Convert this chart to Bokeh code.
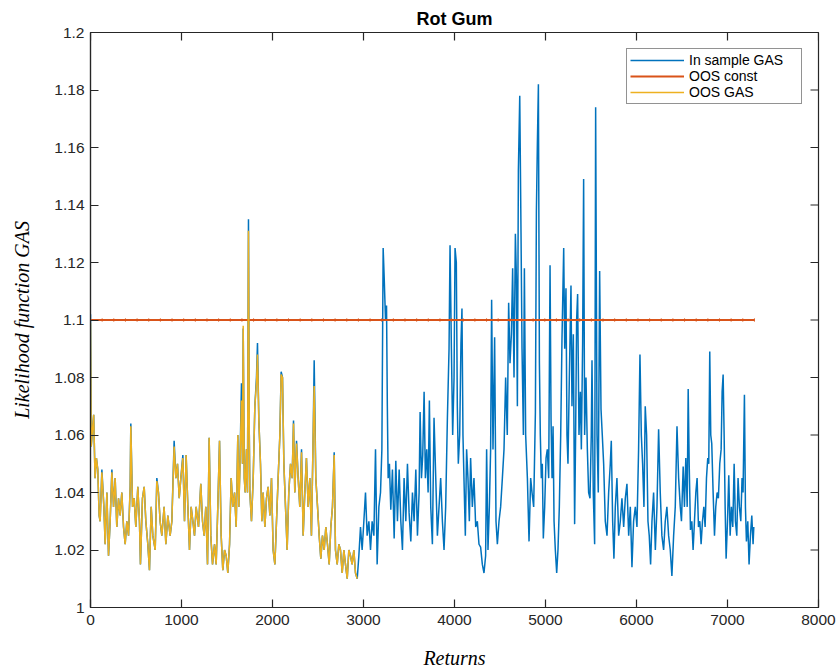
from bokeh.plotting import figure
from bokeh.models import (Range1d, FixedTicker, CustomJSTickFormatter,
                          Legend, LegendItem, ColumnDataSource)
from bokeh.embed import file_html
from bokeh.resources import INLINE

title_text = "Rot Gum"
x_label = "Returns"
y_label = "Likelihood function GAS"
series_names = ["In sample GAS", "OOS const", "OOS GAS"]
series_colors = ["#0072BD", "#D95319", "#EDB120"]

x_ticks = [0, 1000, 2000, 3000, 4000, 5000, 6000, 7000, 8000]
x_tick_labels = ["0", "1000", "2000", "3000", "4000", "5000", "6000", "7000", "8000"]
y_ticks = [1.0, 1.02, 1.04, 1.06, 1.08, 1.1, 1.12, 1.14, 1.16, 1.18, 1.2]
y_tick_labels = ["1", "1.02", "1.04", "1.06", "1.08", "1.1", "1.12", "1.14", "1.16", "1.18", "1.2"]

in_sample_x = [
    0, 8, 22, 35, 50, 65, 80, 95, 106, 125, 147, 161, 180, 198, 216, 235, 253, 271, 289, 308,
    326, 344, 363, 381, 399, 418, 436, 443, 462, 480, 498, 520, 538, 549, 571, 590, 608, 630, 648, 667,
    685, 711, 729, 747, 765, 784, 809, 828, 850, 875, 894, 919, 938, 956, 975, 993, 1015, 1033, 1051, 1070,
    1088, 1106, 1125, 1143, 1161, 1187, 1212, 1231, 1249, 1267, 1286, 1304, 1322, 1341, 1363, 1381, 1399, 1418, 1436, 1454,
    1473, 1491, 1509, 1528, 1546, 1564, 1583, 1601, 1619, 1630, 1641, 1659, 1670, 1678, 1690, 1700, 1714, 1725, 1736, 1745,
    1751, 1769, 1788, 1806, 1824, 1835, 1850, 1868, 1883, 1897, 1916, 1934, 1952, 1971, 1989, 2007, 2026, 2044, 2062, 2081,
    2095, 2110, 2125, 2143, 2161, 2179, 2198, 2216, 2231, 2245, 2264, 2282, 2300, 2319, 2337, 2355, 2373, 2392, 2410, 2428,
    2447, 2458, 2476, 2495, 2513, 2531, 2549, 2568, 2586, 2604, 2623, 2641, 2659, 2678, 2692, 2711, 2729, 2747, 2766, 2784,
    2802, 2821, 2839, 2857, 2875, 2894, 2912, 2931,
    2949, 2967, 2985, 3004, 3022, 3040, 3059, 3077, 3095, 3114, 3132, 3150, 3169, 3187, 3202, 3216, 3227, 3242, 3253, 3262,
    3271, 3285, 3300, 3318, 3337, 3355, 3373, 3392, 3410, 3428, 3446, 3465, 3483, 3501, 3520, 3538, 3556, 3575, 3593, 3611,
    3622, 3637, 3651, 3666, 3680, 3695, 3710, 3724, 3739, 3757, 3775, 3794, 3812, 3830, 3848, 3867, 3885, 3903, 3922, 3940,
    3951, 3966, 3980, 3995, 4006, 4020, 4031, 4042, 4057, 4071, 4082, 4093, 4104, 4119, 4133, 4148, 4163, 4177, 4196, 4214,
    4233, 4251, 4269, 4287, 4306, 4324, 4342, 4353, 4368, 4383, 4397, 4408, 4423, 4441, 4456, 4471, 4489, 4507, 4526, 4544,
    4562, 4580, 4595, 4610, 4625, 4639, 4654, 4669, 4680, 4691, 4702, 4717, 4731, 4742, 4757, 4768, 4782, 4801, 4819, 4837,
    4852, 4870, 4889, 4900, 4911, 4922, 4933, 4943, 4954, 4965, 4976, 4991, 5006, 5020, 5035, 5050, 5061, 5072, 5083, 5094,
    5108, 5123, 5137, 5152, 5167, 5181, 5200, 5211, 5225, 5236, 5247, 5262, 5280, 5291, 5306, 5320, 5331, 5342, 5353, 5368,
    5383, 5394, 5408, 5419, 5430, 5445, 5460, 5474, 5489, 5503, 5511, 5525, 5540, 5551, 5566, 5580, 5595, 5610, 5624, 5639,
    5657, 5676, 5694, 5712, 5723, 5738, 5752, 5767, 5785, 5804, 5822, 5840, 5859, 5877, 5895, 5914, 5932, 5950, 5968, 5987,
    6005, 6023, 6038, 6053, 6067, 6082, 6096, 6111, 6126, 6140, 6155, 6170, 6188, 6207, 6225, 6243, 6261, 6279, 6298, 6316,
    6334, 6353, 6371, 6389, 6408, 6426, 6445, 6463, 6481, 6494, 6513, 6527, 6542, 6557, 6568, 6579, 6593, 6608, 6622, 6637,
    6652, 6666, 6681, 6696, 6710, 6725, 6740, 6754, 6769, 6783, 6794, 6805, 6816, 6827, 6842, 6857, 6871, 6886, 6900, 6915,
    6930, 6941, 6952, 6963, 6974, 6985, 7000, 7014, 7029, 7043, 7058, 7073, 7087, 7102, 7116, 7131, 7146, 7160, 7171, 7186,
    7197, 7208, 7223, 7237, 7252, 7267, 7281, 7289,
]

in_sample_y = [
    1.102, 1.056, 1.062, 1.067, 1.045, 1.052, 1.048, 1.032, 1.030, 1.048, 1.035, 1.022, 1.040, 1.018, 1.030, 1.048, 1.035, 1.045, 1.028, 1.038,
    1.032, 1.040, 1.028, 1.022, 1.030, 1.025, 1.042, 1.064, 1.035, 1.038, 1.028, 1.042, 1.030, 1.015, 1.038, 1.042, 1.030, 1.022, 1.013, 1.035,
    1.025, 1.020, 1.045, 1.040, 1.030, 1.025, 1.035, 1.022, 1.032, 1.025, 1.030, 1.058, 1.045, 1.050, 1.038, 1.045, 1.053, 1.030, 1.053, 1.035,
    1.020, 1.035, 1.030, 1.025, 1.035, 1.028, 1.043, 1.030, 1.025, 1.035, 1.015, 1.059, 1.025, 1.015, 1.022, 1.015, 1.035, 1.058, 1.025, 1.013,
    1.020, 1.018, 1.012, 1.022, 1.045, 1.035, 1.040, 1.028, 1.060, 1.035, 1.048, 1.078, 1.050, 1.097, 1.045, 1.040, 1.055, 1.040, 1.135, 1.060,
    1.040, 1.030, 1.045, 1.070, 1.080, 1.092, 1.065, 1.050, 1.030, 1.040, 1.028, 1.038, 1.042, 1.032, 1.045, 1.020, 1.015, 1.030, 1.045, 1.060,
    1.082, 1.080, 1.050, 1.035, 1.020, 1.040, 1.050, 1.045, 1.065, 1.040, 1.058, 1.045, 1.035, 1.055, 1.025, 1.040, 1.052, 1.035, 1.045, 1.025,
    1.060, 1.086, 1.045, 1.035, 1.025, 1.017, 1.025, 1.020, 1.028, 1.022, 1.015, 1.028, 1.035, 1.054, 1.020, 1.015, 1.022, 1.020, 1.012, 1.020,
    1.015, 1.010, 1.020, 1.018, 1.015, 1.020, 1.012, 1.010,
    1.018, 1.028, 1.020, 1.030, 1.040, 1.025, 1.030, 1.020, 1.030, 1.025, 1.055, 1.015, 1.035, 1.040, 1.055, 1.125, 1.115, 1.100, 1.105, 1.070,
    1.045, 1.050, 1.034, 1.048, 1.024, 1.051, 1.030, 1.048, 1.030, 1.020, 1.045, 1.030, 1.050, 1.033, 1.023, 1.040, 1.030, 1.048, 1.025, 1.040,
    1.068, 1.045, 1.053, 1.075, 1.045, 1.055, 1.040, 1.072, 1.035, 1.022, 1.066, 1.045, 1.025, 1.035, 1.045, 1.030, 1.020, 1.035, 1.066, 1.090,
    1.126, 1.090, 1.060, 1.080, 1.125, 1.120, 1.070, 1.050, 1.060, 1.092, 1.104, 1.060, 1.045, 1.025, 1.055, 1.045, 1.030, 1.052, 1.035, 1.045,
    1.028, 1.030, 1.022, 1.021, 1.015, 1.012, 1.018, 1.055, 1.020, 1.035, 1.055, 1.107, 1.055, 1.094, 1.030, 1.022, 1.030, 1.035, 1.045, 1.055,
    1.080, 1.060, 1.106, 1.085, 1.095, 1.118, 1.080, 1.130, 1.115, 1.070, 1.152, 1.178, 1.130, 1.090, 1.060, 1.118, 1.060, 1.045, 1.023, 1.045,
    1.040, 1.035, 1.068, 1.138, 1.162, 1.182, 1.085, 1.060, 1.045, 1.050, 1.024, 1.035, 1.052, 1.055, 1.045, 1.119, 1.065, 1.045, 1.063, 1.030,
    1.020, 1.012, 1.020, 1.035, 1.060, 1.093, 1.125, 1.090, 1.111, 1.060, 1.050, 1.080, 1.112, 1.070, 1.095, 1.029, 1.060, 1.100, 1.109, 1.060,
    1.075, 1.055, 1.092, 1.149, 1.060, 1.080, 1.055, 1.040, 1.038, 1.060, 1.086, 1.040, 1.022, 1.174, 1.060, 1.040, 1.117, 1.069, 1.060, 1.050,
    1.030, 1.025, 1.040, 1.050, 1.058, 1.030, 1.017, 1.035, 1.045, 1.025, 1.030, 1.038, 1.028, 1.038, 1.043, 1.025, 1.035, 1.014, 1.030, 1.035,
    1.028, 1.055, 1.088, 1.060, 1.050, 1.035, 1.070, 1.060, 1.030, 1.025, 1.015, 1.030, 1.040, 1.020, 1.035, 1.062, 1.040, 1.025, 1.020, 1.030,
    1.035, 1.025, 1.020, 1.011, 1.025, 1.035, 1.063, 1.045, 1.035, 1.030, 1.049, 1.035, 1.052, 1.035, 1.076, 1.050, 1.027, 1.030, 1.020, 1.030,
    1.040, 1.045, 1.028, 1.030, 1.022, 1.030, 1.035, 1.028, 1.045, 1.052, 1.050, 1.089, 1.060, 1.057, 1.040, 1.025, 1.035, 1.040, 1.038, 1.050,
    1.055, 1.075, 1.081, 1.060, 1.035, 1.017, 1.030, 1.046, 1.025, 1.035, 1.028, 1.050, 1.030, 1.025, 1.045, 1.035, 1.030, 1.045, 1.040, 1.074,
    1.035, 1.023, 1.030, 1.015, 1.025, 1.032, 1.022, 1.028,
]

oos_gas_y = [
    1.099, 1.056, 1.062, 1.067, 1.045, 1.052, 1.048, 1.032, 1.030, 1.047, 1.035, 1.022, 1.040, 1.018, 1.030, 1.047, 1.035, 1.045, 1.028, 1.038,
    1.032, 1.040, 1.028, 1.022, 1.030, 1.025, 1.042, 1.063, 1.035, 1.038, 1.028, 1.042, 1.030, 1.015, 1.038, 1.042, 1.030, 1.022, 1.013, 1.035,
    1.025, 1.020, 1.044, 1.040, 1.030, 1.025, 1.035, 1.022, 1.032, 1.025, 1.030, 1.056, 1.045, 1.050, 1.038, 1.045, 1.052, 1.030, 1.053, 1.035,
    1.020, 1.035, 1.030, 1.025, 1.035, 1.028, 1.043, 1.030, 1.025, 1.035, 1.015, 1.059, 1.025, 1.015, 1.022, 1.015, 1.035, 1.058, 1.025, 1.013,
    1.020, 1.018, 1.012, 1.022, 1.045, 1.035, 1.040, 1.028, 1.060, 1.035, 1.047, 1.072, 1.050, 1.098, 1.045, 1.040, 1.055, 1.040, 1.131, 1.060,
    1.040, 1.030, 1.045, 1.070, 1.078, 1.088, 1.065, 1.050, 1.030, 1.040, 1.028, 1.038, 1.042, 1.032, 1.045, 1.020, 1.015, 1.030, 1.045, 1.060,
    1.081, 1.080, 1.050, 1.035, 1.020, 1.040, 1.050, 1.045, 1.064, 1.040, 1.057, 1.045, 1.035, 1.054, 1.025, 1.040, 1.052, 1.035, 1.045, 1.025,
    1.060, 1.077, 1.045, 1.035, 1.025, 1.017, 1.025, 1.020, 1.028, 1.022, 1.015, 1.028, 1.035, 1.053, 1.020, 1.015, 1.022, 1.020, 1.012, 1.020,
    1.015, 1.010, 1.020, 1.018, 1.015, 1.020, 1.012, 1.010,
]

oos_const_value = 1.1
oos_const_x = [0, 7300]
const_marker_step = 128

x_range_lim = (0, 8000)
y_range_lim = (1.0, 1.2)

AX = "#262626"
TICK_LEN = 8
W, H = 839, 671
BL, BR, BT, BB = 90, 21, 32, 64

p = figure(width=W, height=H, output_backend="svg", toolbar_location=None,
           x_range=Range1d(*x_range_lim), y_range=Range1d(*y_range_lim),
           min_border_left=BL, min_border_right=BR, min_border_top=BT, min_border_bottom=BB,
           background_fill_color="white", border_fill_color="white")
p.outline_line_color = AX
p.outline_line_width = 1.2
p.xgrid.visible = False
p.ygrid.visible = False

fmt_code = """
let best = 0; let bd = Infinity;
for (let i = 0; i < tvals.length; i++) {
  const d = Math.abs(tvals[i] - tick);
  if (d < bd) { bd = d; best = i; }
}
return tlabels[best];
"""
xax = p.below[0]
yax = p.left[0]
xax.ticker = FixedTicker(ticks=x_ticks)
xax.formatter = CustomJSTickFormatter(args=dict(tvals=x_ticks, tlabels=x_tick_labels), code=fmt_code)
yax.ticker = FixedTicker(ticks=y_ticks)
yax.formatter = CustomJSTickFormatter(args=dict(tvals=y_ticks, tlabels=y_tick_labels), code=fmt_code)

for ax in [xax, yax]:
    ax.major_tick_in = TICK_LEN
    ax.major_tick_out = 0
    ax.minor_tick_in = 0
    ax.minor_tick_out = 0
    ax.axis_line_color = AX
    ax.axis_line_width = 1.2
    ax.major_tick_line_color = AX
    ax.major_tick_line_width = 1.2
    ax.major_label_text_font = "Liberation Sans"
    ax.major_label_text_color = AX
    ax.major_label_text_font_size = "15.5px"
    ax.axis_label_text_font = "Liberation Serif"
    ax.axis_label_text_font_style = "italic"
    ax.axis_label_text_font_size = "20px"
    ax.axis_label_text_color = "#000000"

xax.axis_label = x_label
xax.major_label_standoff = 7
xax.axis_label_standoff = 19
yax.axis_label = y_label
yax.major_label_standoff = 6
yax.axis_label_standoff = 18

# inward ticks on the top and right edges of the box (tick length converted from px to data units)
frame_w = W - BL - BR
frame_h = H - BT - BB
dy = TICK_LEN * (y_range_lim[1] - y_range_lim[0]) / frame_h
dx = TICK_LEN * (x_range_lim[1] - x_range_lim[0]) / frame_w
p.segment(x0=x_ticks, y0=[y_range_lim[1]] * len(x_ticks),
          x1=x_ticks, y1=[y_range_lim[1] - dy] * len(x_ticks),
          line_color=AX, line_width=1.2)
p.segment(x0=[x_range_lim[1]] * len(y_ticks), y0=y_ticks,
          x1=[x_range_lim[1] - dx] * len(y_ticks), y1=y_ticks,
          line_color=AX, line_width=1.2)

p.title.text = title_text
p.title.align = "center"
p.title.text_font = "Liberation Sans"
p.title.text_font_style = "bold"
p.title.text_font_size = "18px"
p.title.text_color = "#000000"
p.title.standoff = 7

src_in = ColumnDataSource(dict(x=in_sample_x, y=in_sample_y))
src_oos = ColumnDataSource(dict(x=in_sample_x[:len(oos_gas_y)], y=oos_gas_y))
src_const = ColumnDataSource(dict(x=oos_const_x, y=[oos_const_value] * len(oos_const_x)))
mk_x = list(range(oos_const_x[0], oos_const_x[-1], const_marker_step))
src_mk = ColumnDataSource(dict(x=mk_x, y=[oos_const_value] * len(mk_x)))

r_in = p.line("x", "y", source=src_in, line_color=series_colors[0], line_width=1.5)
r_const = p.line("x", "y", source=src_const, line_color=series_colors[1], line_width=1.8)
p.scatter("x", "y", source=src_mk, marker="dash", angle=1.5708, size=4,
          line_color=series_colors[1], line_width=1, line_alpha=0.6)
r_oos = p.line("x", "y", source=src_oos, line_color=series_colors[2], line_width=1.5)

legend = Legend(items=[LegendItem(label=series_names[0], renderers=[r_in]),
                       LegendItem(label=series_names[1], renderers=[r_const]),
                       LegendItem(label=series_names[2], renderers=[r_oos])],
                location="top_right", margin=16, padding=3, spacing=0,
                glyph_width=54, glyph_height=14, label_height=14, label_width=109,
                label_standoff=5, label_text_font="Liberation Sans", label_text_font_size="14px",
                label_text_color="#000000",
                border_line_color="#262626", border_line_width=1.2,
                background_fill_color="white", background_fill_alpha=1.0)
p.add_layout(legend, "center")

open("out.html", "w").write(file_html(p, INLINE))
